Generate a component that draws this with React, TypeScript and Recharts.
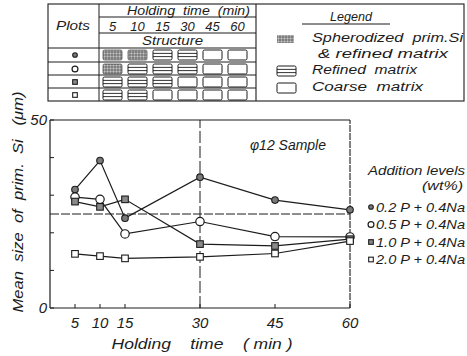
import React from 'react';
import { LineChart, Line, XAxis, YAxis, ReferenceLine, Legend } from 'recharts';

// ---------- data ----------
const TIMES = [5, 10, 15, 30, 45, 60];
const P02 = [31.5, 39.2, 23.9, 34.8, 28.7, 26.1];
const P05 = [29.5, 28.9, 19.7, 23.0, 19.0, 18.9];
const P10 = [28.3, 26.9, 28.9, 17.0, 16.5, 18.3];
const P20 = [14.4, 13.8, 13.2, 13.6, 14.5, 17.8];
const SERIES_NAMES = ['0.2 P + 0.4Na', '0.5 P + 0.4Na', '1.0 P + 0.4Na', '2.0 P + 0.4Na'];
const SERIES_KEYS = ['p02', 'p05', 'p10', 'p20'];
const SERIES_SHAPES = ['filledCircle', 'openCircle', 'filledSquare', 'openSquare'];
const X_TICKS = [5, 10, 15, 30, 45, 60];
const Y_TICKS = [0, 10, 20, 30, 40, 50];
const Y_LABELED = [0, 50];
const REF_Y = 25;
const REF_X = 30;
const TABLE_TIMES = ['5', '10', '15', '30', '45', '60'];
// S = spherodized prim.Si & refined matrix, R = refined matrix, C = coarse matrix
const STRUCTURE = [
  ['S', 'S', 'R', 'R', 'C', 'C'],
  ['S', 'R', 'R', 'R', 'C', 'C'],
  ['R', 'R', 'R', 'C', 'C', 'C'],
  ['R', 'R', 'C', 'C', 'C', 'C'],
];
const LEGEND_ITEMS = [
  { kind: 'S', lines: ['Spherodized  prim.Si', '& refined matrix'] },
  { kind: 'R', lines: ['Refined  matrix'] },
  { kind: 'C', lines: ['Coarse  matrix'] },
];

const data = TIMES.map((t, i) => ({ t, p02: P02[i], p05: P05[i], p10: P10[i], p20: P20[i] }));

const FONT = '"Liberation Sans", Arial, sans-serif';
const INK = '#1c1c1c';
const PRE = { whiteSpace: 'pre' as const };

function Marker({ shape, cx, cy, s = 1 }: any) {
  if (cx == null || cy == null) return null;
  switch (shape) {
    case 'filledCircle':
      return <circle cx={cx} cy={cy} r={3.3 * s} fill="#7a7a7a" stroke={INK} strokeWidth={1.1} />;
    case 'openCircle':
      return <circle cx={cx} cy={cy} r={4.2 * s} fill="#fff" stroke={INK} strokeWidth={1.2} />;
    case 'filledSquare':
      return <rect x={cx - 3.3 * s} y={cy - 3.3 * s} width={6.6 * s} height={6.6 * s} fill="#8a8a8a" stroke={INK} strokeWidth={1.1} />;
    default:
      return <rect x={cx - 3.3 * s} y={cy - 3.3 * s} width={6.6 * s} height={6.6 * s} fill="#fff" stroke={INK} strokeWidth={1.1} />;
  }
}

const YTick = (props: any) => {
  const { x, y, payload } = props;
  return (
    <g>
      <line x1={x} x2={x + 4} y1={y} y2={y} stroke={INK} strokeWidth={1} />
      {Y_LABELED.includes(payload.value) && (
        <text x={x - 3} y={y + 5} textAnchor="end" fontFamily={FONT} fontStyle="italic" fontSize={15} fill={INK}>
          {payload.value}
        </text>
      )}
    </g>
  );
};

const XTick = (props: any) => {
  const { x, y, payload } = props;
  return (
    <g>
      <line x1={x} x2={x} y1={y} y2={y - 4} stroke={INK} strokeWidth={1} />
      <text x={x} y={y + 20} textAnchor="middle" fontFamily={FONT} fontStyle="italic" fontSize={15} fill={INK}>
        {payload.value}
      </text>
    </g>
  );
};

const renderLegend = () => (
  <svg width={105} height={110} style={{ overflow: 'visible' }}>
    <text x={6} y={13} fontFamily={FONT} fontStyle="italic" fontSize={12.5} fill={INK} textLength={97} lengthAdjust="spacingAndGlyphs">
      Addition levels
    </text>
    <text x={60} y={28} fontFamily={FONT} fontStyle="italic" fontSize={12} fill={INK} textLength={41} lengthAdjust="spacingAndGlyphs">
      (wt%)
    </text>
    {SERIES_NAMES.map((name, i) => {
      const cy = 45 + i * 17.5;
      return (
        <g key={name}>
          <Marker shape={SERIES_SHAPES[i]} cx={9} cy={cy} s={0.7} />
          <text x={14} y={cy + 4.5} fontFamily={FONT} fontStyle="italic" fontSize={12.5} fill={INK} textLength={89} lengthAdjust="spacingAndGlyphs">
            {name}
          </text>
        </g>
      );
    })}
  </svg>
);

function Cell({ kind, x, y }: any) {
  const w = 19;
  const h = 10;
  if (kind === 'S') {
    return <rect x={x} y={y} width={w} height={h} rx={1.5} fill="url(#sphPat)" stroke="#555" strokeWidth={0.8} />;
  }
  if (kind === 'R') {
    return (
      <g>
        <rect x={x} y={y} width={w} height={h} rx={1.5} fill="#fff" stroke={INK} strokeWidth={1} />
        <line x1={x} x2={x + w} y1={y + 3.4} y2={y + 3.4} stroke={INK} strokeWidth={0.9} />
        <line x1={x} x2={x + w} y1={y + 6.6} y2={y + 6.6} stroke={INK} strokeWidth={0.9} />
      </g>
    );
  }
  return <rect x={x} y={y} width={w} height={h} rx={1.5} fill="#fff" stroke={INK} strokeWidth={1} />;
}

function Overlay() {
  const rowTops = [48, 62, 75, 88];
  const colX = (i: number) => 103 + i * 25;
  const t = { fontFamily: FONT, fontStyle: 'italic' as const, fill: INK };
  return (
    <svg width={467} height={356} style={{ position: 'absolute', left: 0, top: 0, pointerEvents: 'none' }}>
      <defs>
        <pattern id="sphPat" width={3} height={3} patternUnits="userSpaceOnUse">
          <rect width={3} height={3} fill="#a0a0a0" />
          <circle cx={1} cy={1} r={0.8} fill="#555" />
          <circle cx={2.5} cy={2.4} r={0.5} fill="#d0d0d0" />
        </pattern>
      </defs>
      {/* table frame */}
      <rect x={48} y={4} width={416} height={97} fill="none" stroke={INK} strokeWidth={1.1} />
      <line x1={99} x2={99} y1={4} y2={101} stroke={INK} strokeWidth={1} />
      <line x1={256} x2={256} y1={4} y2={101} stroke={INK} strokeWidth={1.1} />
      <line x1={99} x2={256} y1={17} y2={17} stroke={INK} strokeWidth={1} />
      <line x1={99} x2={256} y1={33} y2={33} stroke={INK} strokeWidth={1} />
      {[48, 62, 75, 88].map((yy) => (
        <line key={yy} x1={48} x2={256} y1={yy} y2={yy} stroke={INK} strokeWidth={1} />
      ))}
      <text x={56} y={30} fontSize={13} {...t} textLength={34} lengthAdjust="spacingAndGlyphs">Plots</text>
      <text x={127} y={15} fontSize={12.5} {...t} style={PRE} textLength={123} lengthAdjust="spacingAndGlyphs">{'Holding  time  (min)'}</text>
      {TABLE_TIMES.map((lab, i) => (
        <text key={lab} x={colX(i) + 9.5} y={31} fontSize={13} textAnchor="middle" {...t}>{lab}</text>
      ))}
      <text x={142} y={45} fontSize={12.5} {...t} textLength={61} lengthAdjust="spacingAndGlyphs">Structure</text>
      {STRUCTURE.map((row, r) => (
        <g key={r}>
          <Marker shape={SERIES_SHAPES[r]} cx={75} cy={rowTops[r] + 7} s={0.7} />
          {row.map((k, c) => (
            <Cell key={c} kind={k} x={colX(c)} y={rowTops[r] + 2} />
          ))}
        </g>
      ))}
      {/* structure legend */}
      <text x={330} y={21} fontSize={12.5} {...t} textLength={42} lengthAdjust="spacingAndGlyphs">Legend</text>
      <line x1={302} x2={390} y1={24} y2={24} stroke={INK} strokeWidth={1} />
      <rect x={277} y={35} width={17} height={8} fill="url(#sphPat)" />
      <text x={312} y={42} fontSize={12.5} {...t} style={PRE} textLength={151} lengthAdjust="spacingAndGlyphs">{LEGEND_ITEMS[0].lines[0]}</text>
      <text x={318} y={58} fontSize={12.5} {...t} style={PRE} textLength={130} lengthAdjust="spacingAndGlyphs">{LEGEND_ITEMS[0].lines[1]}</text>
      <Cell kind="R" x={277} y={66} />
      <text x={312} y={74} fontSize={12.5} {...t} style={PRE} textLength={105} lengthAdjust="spacingAndGlyphs">{LEGEND_ITEMS[1].lines[0]}</text>
      <Cell kind="C" x={277} y={83} />
      <text x={312} y={91} fontSize={12.5} {...t} style={PRE} textLength={111} lengthAdjust="spacingAndGlyphs">{LEGEND_ITEMS[2].lines[0]}</text>
      {/* axis titles & annotation */}
      <text transform="translate(23,202) rotate(-90)" textAnchor="middle" fontSize={15} {...t} style={PRE} textLength={221} lengthAdjust="spacingAndGlyphs">
        {'Mean  size  of  prim.  Si   (μm)'}
      </text>
      <text x={202} y={349} textAnchor="middle" fontSize={15.5} {...t} style={PRE} textLength={181} lengthAdjust="spacingAndGlyphs">
        {'Holding    time    ( min )'}
      </text>
      <text x={250} y={150} fontSize={15} {...t} textLength={76} lengthAdjust="spacingAndGlyphs">φ12 Sample</text>
    </svg>
  );
}

export default function App() {
  return (
    <div style={{ position: 'absolute', left: 0, top: 0, width: 467, height: 356, background: '#fff' }}>
      <LineChart width={467} height={356} data={data} margin={{ top: 120, right: 117, bottom: 18, left: 20 }}>
        <XAxis
          dataKey="t"
          type="number"
          domain={[0, 60]}
          ticks={X_TICKS}
          tickSize={0}
          tickMargin={0}
          tick={<XTick />}
          axisLine={{ stroke: INK, strokeWidth: 1.2 }}
          height={30}
          interval={0}
        />
        <YAxis
          type="number"
          domain={[0, 50]}
          ticks={Y_TICKS}
          tickSize={0}
          tickMargin={0}
          tick={<YTick />}
          axisLine={{ stroke: INK, strokeWidth: 1.2 }}
          width={30}
          interval={0}
        />
        <ReferenceLine y={50} stroke={INK} strokeWidth={1.1} />
        <ReferenceLine x={60} stroke={INK} strokeWidth={1.1} strokeDasharray="7 1" />
        <ReferenceLine y={REF_Y} stroke={INK} strokeWidth={1} strokeDasharray="9 2" />
        <ReferenceLine x={REF_X} stroke={INK} strokeWidth={1} strokeDasharray="12 3" />
        {SERIES_KEYS.map((k, i) => (
          <Line
            key={k}
            dataKey={k}
            name={SERIES_NAMES[i]}
            type="linear"
            stroke={INK}
            strokeWidth={1.2}
            isAnimationActive={false}
            activeDot={false}
            dot={(p: any) => <Marker key={`${k}-${p.index}`} shape={SERIES_SHAPES[i]} cx={p.cx} cy={p.cy} />}
          />
        ))}
        <Legend
          layout="vertical"
          align="center"
          verticalAlign="middle"
          content={renderLegend}
          wrapperStyle={{ left: 362, top: 162, width: 105, height: 110 }}
        />
      </LineChart>
      <Overlay />
    </div>
  );
}
